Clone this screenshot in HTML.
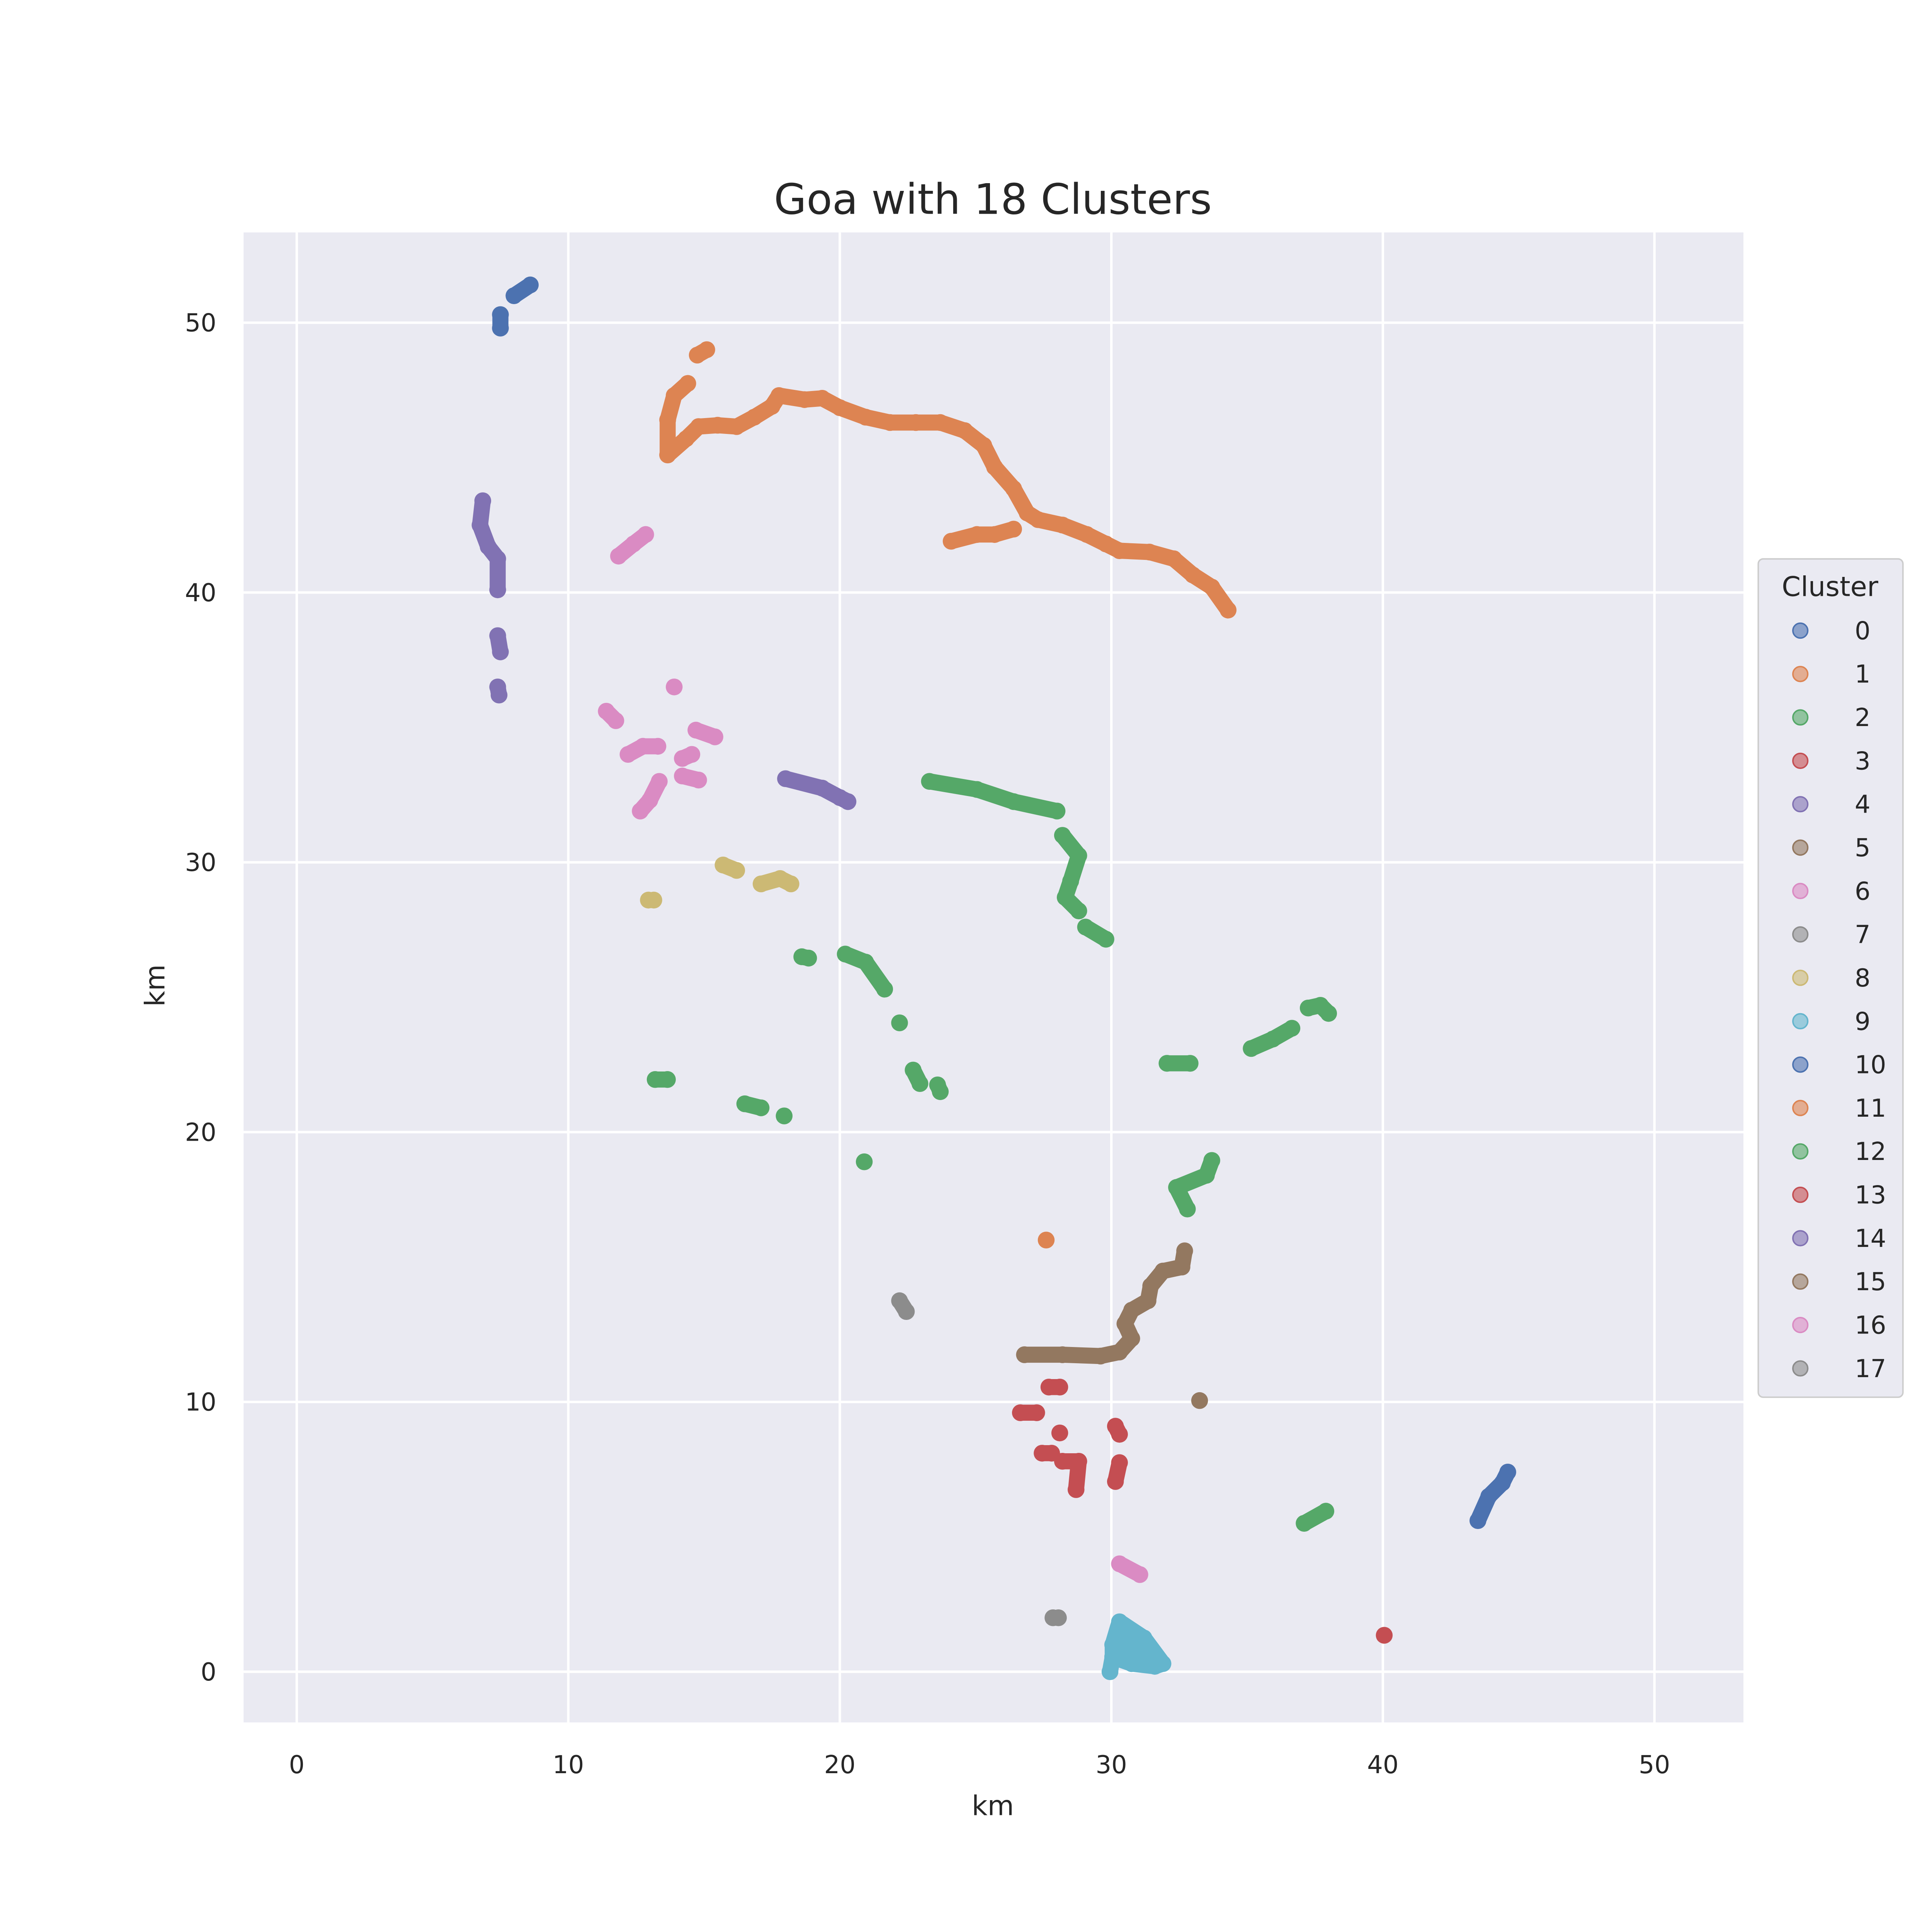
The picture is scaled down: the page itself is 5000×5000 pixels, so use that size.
<!DOCTYPE html>
<html><head><meta charset="utf-8">
<style>html,body{margin:0;padding:0;background:#fff}svg{display:block}text{font-family:"DejaVu Sans","Liberation Sans",sans-serif;fill:#262626}</style>
</head><body>
<svg id="chart" width="5000" height="5000" viewBox="0 0 1562.5 1562.5" xmlns="http://www.w3.org/2000/svg">
<rect x="197" y="188" width="1213" height="1205" fill="#eaeaf2"/>
<g id="grid"></g>
<g id="marks"></g>
<g id="ticks"></g>
<text x="803" y="173" font-size="34" text-anchor="middle">Goa with 18 Clusters</text>
<text x="803" y="1468" font-size="22" text-anchor="middle">km</text>
<text x="133" y="797" font-size="22" text-anchor="middle" transform="rotate(-90 133 797)">km</text>
<g id="legend">
<rect x="1422" y="452" width="117" height="678" rx="4" fill="#eaeaf2" stroke="#cccccc" stroke-width="1.2"/>
<text x="1480" y="482" font-size="22" text-anchor="middle">Cluster</text>
</g>
</svg>
<script>
const colors = ["#4c72b0","#dd8452","#55a868","#c44e52","#8172b3","#937860","#da8bc3","#8c8c8c","#ccb974","#64b5cd"];
const legendLabels = ["0","1","2","3","4","5","6","7","8","9","10","11","12","13","14","15","16","17"];
const xTicks = [0,10,20,30,40,50];
const yTicks = [0,10,20,30,40,50];
const segClusters = [10,10,0, 1,1,1,1,11, 2,2,2,2,2,2,2,2,2,2,2,2,12,12,12,12,12, 3,3,3,3,3,3,3,13, 4,4,4,14, 5,15, 6,6,6,6,6,6,6,6,16, 7,17, 8,8,8, 9];
const segX = [
[7.5,7.5],[8.0,8.6],[43.5,43.9,44.4,44.6],
[14.75,15.1],
[13.66,13.66,13.9,14.4],
[13.66,14.34,14.8,15.5,16.2,16.85,17.5,17.76,18.7,19.35,20.0,20.95,21.85,22.8,23.7,24.6,25.3,25.7,26.4,26.9,27.3,28.2,29.1,29.8,30.3,31.4,32.3,33.0,33.7,34.3],
[24.1,25.05,25.7,26.4],
[27.6],
[23.3,25.05,26.4,28.0],[28.2,28.8,28.5,28.3,28.8],[29.05,29.8],[18.6,18.85],[20.2,20.95,21.65],[22.2],[22.7,22.95],[23.6,23.7],[13.2,13.65],[16.5,17.1],[17.95],[20.9],
[32.05,32.9],[35.15,35.95,36.65],[37.25,37.7,38.0],[32.8,32.4,33.5,33.7],[37.1,37.9],
[27.7,28.1],[26.65,27.25],[27.45,27.8],[28.1],[28.2,28.8,28.7],[30.15,30.3],[30.15,30.3],[40.05],
[6.85,6.75,7.05,7.4,7.4],[7.4,7.5],[7.4,7.45],[18.0,19.35,20.0,20.3],
[26.8,28.2,29.6,30.3,30.75,30.5,30.75,31.35,31.45,31.9,32.6,32.7],[33.25],
[11.85,12.4,12.85],[11.4,11.75],[13.9],[12.2,12.75,13.3],[14.7,15.4],[14.2,14.55],[14.2,14.8],[12.65,13.0,13.35],[30.3,31.05],
[22.2,22.45],[27.85,28.05],
[15.7,16.2],[17.1,17.8,18.2],[12.95,13.15],
[29.95,30.05,30.05,30.3,31.2,31.9,31.6,30.75,30.05]
];
const segY = [
[50.3,49.8],[51.0,51.4],[5.6,6.5,7.0,7.4],
[48.8,49.0],
[45.1,46.4,47.3,47.75],
[45.1,45.7,46.15,46.2,46.15,46.5,46.9,47.3,47.15,47.2,46.85,46.5,46.3,46.3,46.3,46.0,45.45,44.65,43.85,42.95,42.7,42.5,42.15,41.8,41.55,41.5,41.25,40.65,40.2,39.35],
[41.9,42.15,42.15,42.35],
[16.0],
[33.0,32.7,32.25,31.9],[31.0,30.25,29.3,28.7,28.2],[27.6,27.15],[26.5,26.45],[26.6,26.3,25.3],[24.05],[22.3,21.8],[21.75,21.5],[21.95,21.95],[21.05,20.9],[20.6],[18.9],
[22.55,22.55],[23.1,23.45,23.85],[24.6,24.7,24.4],[17.15,17.95,18.4,18.95],[5.5,5.95],
[10.55,10.55],[9.6,9.6],[8.1,8.1],[8.85],[7.8,7.8,6.75],[9.1,8.8],[7.05,7.75],[1.35],
[43.4,42.5,41.7,41.25,40.1],[38.4,37.8],[36.5,36.2],[33.1,32.75,32.4,32.25],
[11.75,11.75,11.7,11.85,12.35,12.9,13.4,13.75,14.3,14.85,15.0,15.6],[10.05],
[41.35,41.8,42.15],[35.6,35.25],[36.5],[34.0,34.3,34.3],[34.9,34.65],[33.85,34.0],[33.2,33.05],[31.9,32.3,33.0],[4.0,3.6],
[13.75,13.35],[2.0,2.0],
[29.9,29.7],[29.2,29.4,29.2],[28.6,28.6],
[0.0,0.55,1.0,1.85,1.25,0.3,0.2,0.3,0.55]
];
const NS="http://www.w3.org/2000/svg";
const sx = v => 240 + v*21.96;
const sy = v => 1352 - v*21.82;
function mk(tag, attrs, parent){const e=document.createElementNS(NS,tag);for(const k in attrs)e.setAttribute(k,attrs[k]);parent.appendChild(e);return e;}
const grid=document.getElementById('grid'), ticks=document.getElementById('ticks'), marks=document.getElementById('marks'), legend=document.getElementById('legend');
xTicks.forEach(t=>{
  const l=mk('line',{x1:sx(t),x2:sx(t),y1:188,y2:1393,stroke:'#fff','stroke-width':2},grid);
  
  
  const tx=mk('text',{x:sx(t),y:1434,'font-size':20,'text-anchor':'middle'},ticks);
  tx.textContent=t;
  
  
});
yTicks.forEach(t=>{
  const l=mk('line',{x1:197,x2:1410,y1:sy(t),y2:sy(t),stroke:'#fff','stroke-width':2},grid);
  
  
  const tx=mk('text',{x:175,y:sy(t)+7,'font-size':20,'text-anchor':'end'},ticks);
  tx.textContent=t;
  
  
});
segX.forEach((xs,i)=>{
  const col=colors[segClusters[i]%10];
  const pts=xs.map((x,j)=>sx(x)+','+sy(segY[i][j])).join(' ');
  const filled = segClusters[i]===9;
  const pl=mk(filled?'polygon':'polyline',{points:pts,fill:filled?col:'none',stroke:col,'stroke-width':13,'stroke-linecap':'round','stroke-linejoin':'round'},marks);
  
  
  xs.forEach((x,j)=>{
    const c=mk('circle',{cx:sx(x),cy:sy(segY[i][j]),r:6.8,fill:col},marks);
    
    
  });
});
legendLabels.forEach((lab,i)=>{
  const y=510+i*35.1;
  const c=mk('circle',{cx:1456,cy:y,r:6,fill:colors[i%10],'fill-opacity':0.6,stroke:colors[i%10],'stroke-width':1.2},legend);
  
  
  const t=mk('text',{x:1500,y:y+7,'font-size':20},legend);
  t.textContent=lab;
  
  
});
</script>
</body></html>
